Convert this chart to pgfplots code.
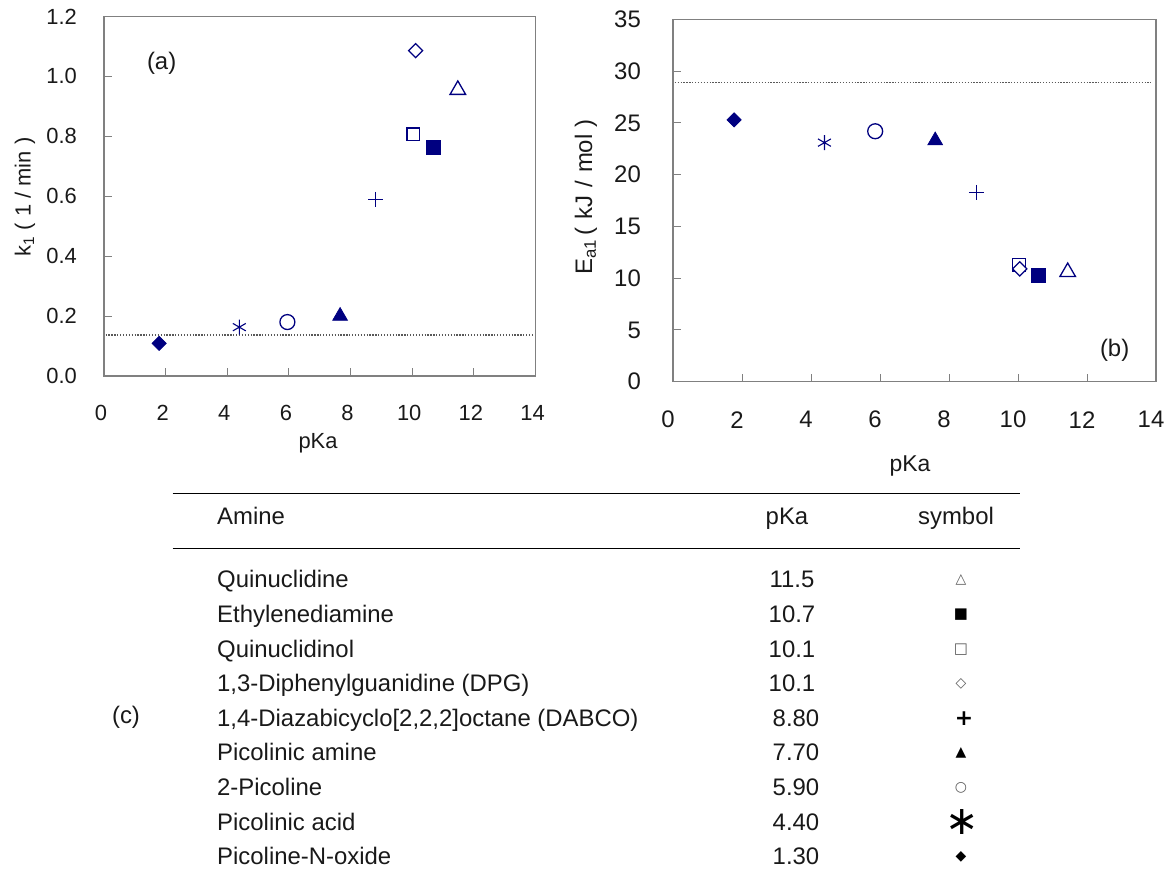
\documentclass[border=0pt]{standalone}
\usepackage{pgfplots}
\pgfplotsset{compat=1.18}
\usepackage{fontspec}
\setmainfont{Liberation Sans}
\newfontfamily\symfont{DejaVu Sans}
\definecolor{navy}{RGB}{0,0,128}
\definecolor{framegray}{RGB}{128,128,128}
\definecolor{txt}{RGB}{25,25,25}
\definecolor{symgray}{RGB}{90,90,90}
\newcommand{\fs}[1]{\fontsize{#1}{#1}\selectfont}
\pgfplotsset{
  myaxis/.style={
    scale only axis, anchor=south west,
    xmin=0, xmax=14, xtick={0,2,4,6,8,10,12,14},
    axis line style={framegray, line width=1.4bp},
    tick style={framegray, line width=1bp},
    tick align=inside, major tick length=8bp,
    tick pos=left,
    /pgf/number format/assume math mode=true,
    xticklabel style={anchor=center, inner sep=0pt, text=txt},
    yticklabel style={anchor=east, inner sep=0pt, text=txt},
    clip=false,
  },
  mkDF/.style={only marks, mark=square*, mark size=5, mark options={rotate=45, draw=navy, fill=navy, line width=0.8bp}},
  mkAst/.style={only marks, mark=asterisk, mark size=7.5, mark options={draw=navy, line width=1.1bp}},
  mkCirc/.style={only marks, mark=*, mark size=7.5, mark options={draw=navy, fill=white, line width=1.3bp}},
  mkTF/.style={only marks, mark=triangle*, mark size=8.5, mark options={draw=navy, fill=navy, line width=0.8bp}},
  mkPlus/.style={only marks, mark=+, mark size=7.5, mark options={draw=navy, line width=1.1bp}},
  mkSO/.style={only marks, mark=square*, mark size=6.3, mark options={draw=navy, fill=white, line width=1.4bp}},
  mkSF/.style={only marks, mark=square*, mark size=7, mark options={draw=navy, fill=navy, line width=0.8bp}},
  mkDO/.style={only marks, mark=square*, mark size=5, mark options={rotate=45, draw=navy, fill=white, line width=1.2bp}},
  mkTO/.style={only marks, mark=triangle*, mark size=9, mark options={draw=navy, fill=white, line width=1.3bp}},
  dotl/.style={no marks, color=gray!70!black, line width=1.2bp, dash pattern=on 1.3bp off 1.6bp},
}
\begin{document}
\begin{tikzpicture}[x=1bp,y=1bp]
\path[use as bounding box] (0,0) rectangle (1172,874);

% ---------- (a) ----------
\begin{axis}[myaxis, at={(104bp,498bp)}, width=431.5bp, height=359.5bp,
  ymin=0, ymax=1.2, ytick={0,0.2,0.4,0.6,0.8,1.0,1.2},
  /pgf/number format/fixed, /pgf/number format/fixed zerofill, /pgf/number format/precision=1,
  ticklabel style={font=\fs{22}},
  xticklabel style={yshift=-37bp, xshift=-3bp},
  yticklabel style={xshift=-27bp},
  xticklabel={\pgfmathprintnumber[precision=0,fixed zerofill=false]{\tick}},
]
\addplot[dotl] coordinates {(0.05,0.137) (13.9,0.137)};
\addplot[mkDF]   coordinates {(1.79,0.109)};
\addplot[mkAst]  coordinates {(4.39,0.163)};
\addplot[mkCirc] coordinates {(5.95,0.180)};
\addplot[mkTF]   coordinates {(7.66,0.200)};
\addplot[mkPlus] coordinates {(8.82,0.590)};
\addplot[mkSO]   coordinates {(10.04,0.807)};
\addplot[mkSF]   coordinates {(10.68,0.763)};
\addplot[mkDO]   coordinates {(10.11,1.086)};
\addplot[mkTO]   coordinates {(11.48,0.955)};
\node[font=\fs{24}, text=txt] at (axis cs:1.87,1.044) {(a)};
\end{axis}
\node[rotate=90, text=txt] at (25,677) {\fs{22}k\textsubscript{1} ( 1 / min )};
\node[text=txt] at (318,431) {\fs{22}pKa};

% ---------- (b) ----------
\begin{axis}[myaxis, at={(673bp,492.3bp)}, width=483bp, height=362.2bp,
  ymin=0, ymax=35, ytick={0,5,10,15,20,25,30,35},
  ticklabel style={font=\fs{24}},
  xticklabel style={yshift=-38bp, xshift=-5bp},
  yticklabel style={xshift=-32bp},
]
\addplot[dotl] coordinates {(0.05,28.9) (13.85,28.9)};
\addplot[mkDF]   coordinates {(1.77,25.3)};
\addplot[mkAst]  coordinates {(4.39,23.1)};
\addplot[mkCirc] coordinates {(5.86,24.2)};
\addplot[mkTF]   coordinates {(7.60,23.3)};
\addplot[mkPlus] coordinates {(8.79,18.3)};
\addplot[mkSO]   coordinates {(10.03,11.3)};
\addplot[mkDO]   coordinates {(10.05,10.9)};
\addplot[mkSF]   coordinates {(10.59,10.3)};
\addplot[mkTO]   coordinates {(11.44,10.6)};
\node[font=\fs{24}, text=txt] at (axis cs:12.8,3.06) {(b)};
\end{axis}
\node[rotate=90, text=txt] at (586,677) {\fs{24}E\textsubscript{a1}\hspace{4bp}(\hspace{8bp}kJ\hspace{8bp}/\hspace{8bp}mol\hspace{7bp})};
\node[text=txt] at (910,408) {\fs{23}pKa};

% ---------- (c) table ----------
\draw[line width=1.5bp, black] (172.7,380.7) -- (1020,380.7);
\draw[line width=1.5bp, black] (172.7,325.7) -- (1020,325.7);
\node[anchor=base west, inner sep=0pt, text=txt] at (217,349) {\fs{24}Amine};
\node[anchor=base, inner sep=0pt, text=txt] at (787,349) {\fs{24}pKa};
\node[anchor=base, inner sep=0pt, text=txt] at (956,349) {\fs{24}symbol};
\node[text=txt] at (126,157) {\fs{24}(c)};

\begin{scope}[every node/.style={inner sep=0pt, text=txt}]
\node[anchor=base west] at (217,286.0) {\fs{24}Quinuclidine};
\node[anchor=base west] at (217,251.4) {\fs{24}Ethylenediamine};
\node[anchor=base west] at (217,216.8) {\fs{24}Quinuclidinol};
\node[anchor=base west] at (217,182.2) {\fs{24}1,3-Diphenylguanidine (DPG)};
\node[anchor=base west] at (217,147.6) {\fs{24}1,4-Diazabicyclo[2,2,2]octane (DABCO)};
\node[anchor=base west] at (217,113.0) {\fs{24}Picolinic amine};
\node[anchor=base west] at (217,78.4) {\fs{24}2-Picoline};
\node[anchor=base west] at (217,43.8) {\fs{24}Picolinic acid};
\node[anchor=base west] at (217,9.2) {\fs{24}Picoline-N-oxide};

\node[anchor=base] at (792,286.0) {\fs{24}11.5};
\node[anchor=base] at (792,251.4) {\fs{24}10.7};
\node[anchor=base] at (792,216.8) {\fs{24}10.1};
\node[anchor=base] at (792,182.2) {\fs{24}10.1};
\node[anchor=base] at (796,147.6) {\fs{24}8.80};
\node[anchor=base] at (796,113.0) {\fs{24}7.70};
\node[anchor=base] at (796,78.4) {\fs{24}5.90};
\node[anchor=base] at (796,43.8) {\fs{24}4.40};
\node[anchor=base] at (796,9.2) {\fs{24}1.30};
\end{scope}

\begin{scope}[every node/.style={inner sep=0pt, anchor=center}]
\node[text=symgray] at (961,294) {\symfont\fs{14}△};
\node[text=black] at (961,259.4) {\symfont\fs{15}■};
\node[text=symgray] at (961,224.8) {\symfont\fs{15}□};
\node[text=symgray] at (961,190.2) {\symfont\fs{14}◇};
\node[text=black] at (964,155.6) {\symfont\bfseries\fs{22}+};
\node[text=black] at (961,121) {\symfont\fs{14}▲};
\node[text=symgray] at (961,86.4) {\symfont\fs{14}○};
\node[text=black] at (962,51.8) {\symfont\fs{40}∗};
\node[text=black] at (961,17.2) {\symfont\fs{14}◆};
\end{scope}
\end{tikzpicture}
\end{document}
